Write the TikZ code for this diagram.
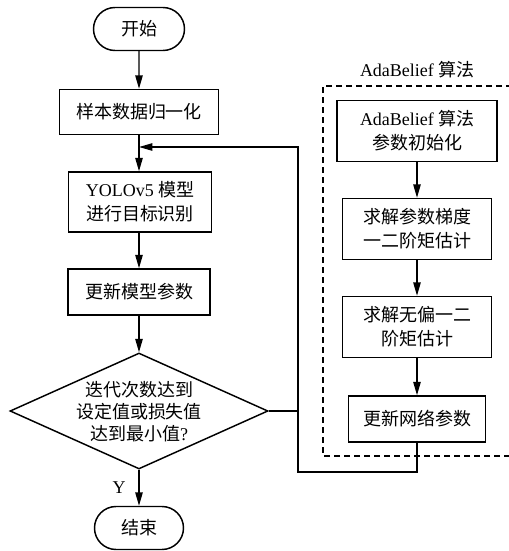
\documentclass[tikz,border=0pt]{standalone}
\usepackage{fontspec}
\setmainfont{Liberation Serif}
\newfontfamily\cjk{Noto Sans CJK SC}
\newcommand\latn[1]{{\rmfamily #1}}
\usetikzlibrary{shapes.geometric,shapes.misc,arrows.meta}
\begin{document}
\begin{tikzpicture}[x=0.75pt,y=-0.75pt,
  txt/.style={font=\cjk\fontsize{13.5}{18}\selectfont, align=center},
  box/.style={txt, draw, line width=1.1pt, inner sep=0pt, rectangle},
  term/.style={txt, draw, line width=1.1pt, inner sep=0pt, rounded rectangle},
  arr/.style={line width=1.1pt, -{Triangle[length=10pt,width=5.5pt]}},
  ln/.style={line width=1.1pt}]
\useasboundingbox (0,0) rectangle (509,551);

% left column
\node[term, minimum width=91*0.75pt, minimum height=43*0.75pt] (start) at (139,29) {开始};
\node[box, minimum width=159*0.75pt, minimum height=45*0.75pt] (b1) at (139,112) {样本数据归一化};
\node[box, minimum width=143*0.75pt, minimum height=60*0.75pt] (b2) at (140,202) {\latn{YOLOv5} 模型\\进行目标识别};
\node[box, minimum width=142*0.75pt, minimum height=46*0.75pt] (b3) at (139,292) {更新模型参数};
\node[draw, diamond, line width=1.1pt, inner sep=0pt, aspect=2.22, minimum width=258*0.75pt, minimum height=116*0.75pt] (dia) at (139,411) {};
\node[txt, font=\cjk\fontsize{13.5}{16.5}\selectfont] (diatext) at (139,412) {迭代次数达到\\设定值或损失值\\达到最小值\latn{?}};
\node[term, minimum width=89*0.75pt, minimum height=43*0.75pt] (end) at (139,528) {结束};
\node[font=\rmfamily\fontsize{13.5}{16}\selectfont] (ylab) at (119,488) {Y};

% right column
\node[txt] (title) at (417,70) {\latn{AdaBelief} 算法};
\draw[ln, dash pattern=on 4.5pt off 3pt] (512,86) -- (323,86) -- (323,456) -- (512,456);
\node[box, minimum width=160*0.75pt, minimum height=61*0.75pt] (r1) at (417,131) {\latn{AdaBelief} 算法\\参数初始化};
\node[box, minimum width=149*0.75pt, minimum height=61*0.75pt] (r2) at (417,229) {求解参数梯度\\一二阶矩估计};
\node[box, minimum width=149*0.75pt, minimum height=61*0.75pt] (r3) at (417,327) {求解无偏一二\\阶矩估计};
\node[box, minimum width=137*0.75pt, minimum height=46*0.75pt] (r4) at (417,419) {更新网络参数};

% connectors
\draw[arr] (start) -- (b1);
\draw[arr] (b1.south) -- (b1.south |- b2.north);
\draw[arr] (b2.south -| b3.north) -- (b3.north);
\draw[arr] (b3) -- (dia.north);
\draw[arr] (dia.south) -- (end.north);

\draw[arr] (r1) -- (r2);
\draw[arr] (r2) -- (r3);
\draw[arr] (r3) -- (r4);

\coordinate (c1) at (298,472);
\coordinate (c2) at (298,147);
\coordinate (c3) at (139,147);
\draw[ln] (dia.east) -- (dia.east -| c1);
\draw[arr] (r4.south) |- (c1) -- (c2) -- (c3);
\end{tikzpicture}
\end{document}
